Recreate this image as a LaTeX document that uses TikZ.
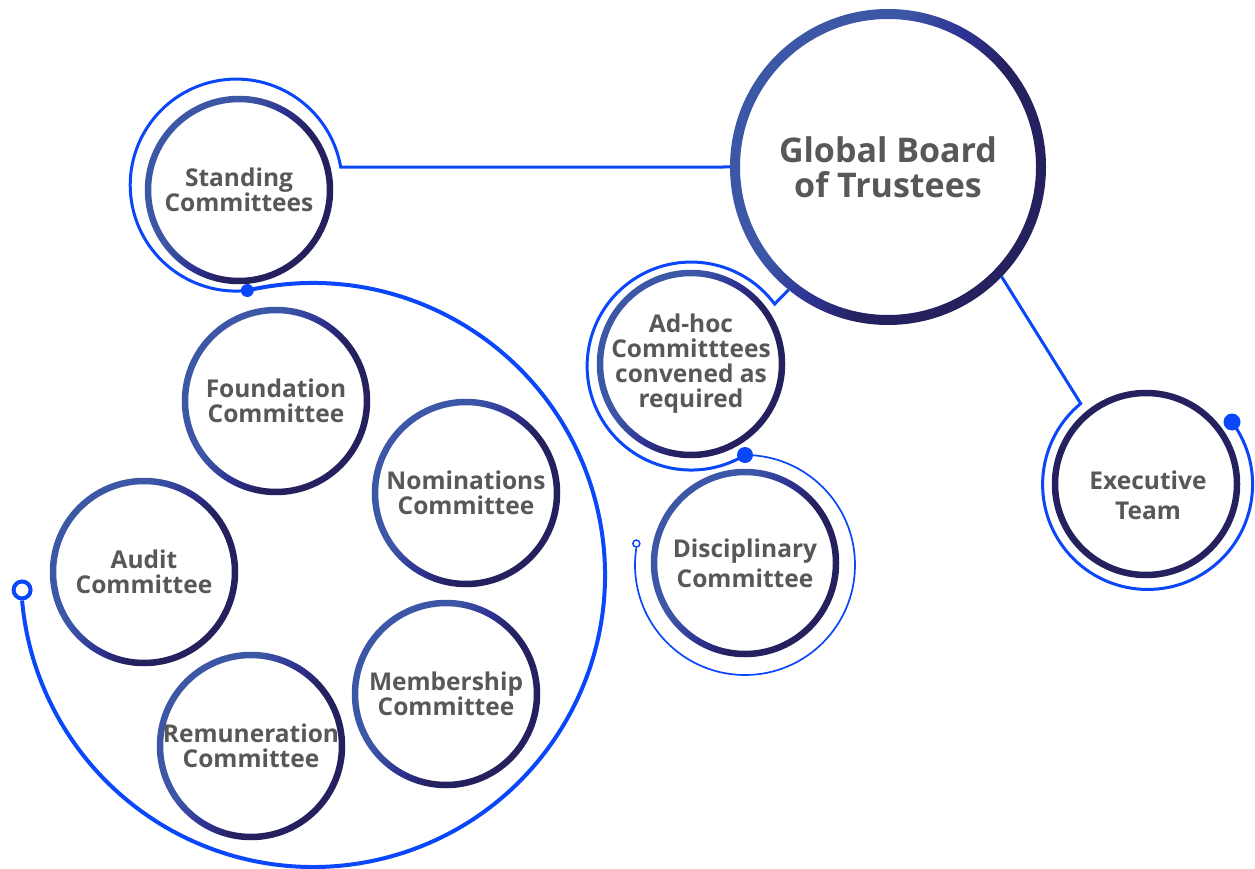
\documentclass[tikz,border=0pt]{standalone}
\usepackage{fontspec}
\setmainfont{Open Sans}
\definecolor{lineblue}{RGB}{10,70,250}
\definecolor{ringA}{RGB}{60,87,166}
\definecolor{ringB}{RGB}{46,49,146}
\definecolor{ringC}{RGB}{37,33,94}
\definecolor{txt}{RGB}{88,88,88}
\pgfdeclarehorizontalshading{ringshade}{100bp}{color(0bp)=(ringA); color(40bp)=(ringA); color(50bp)=(ringB); color(58bp)=(ringC); color(100bp)=(ringC)}
\pgfdeclarelayer{bg}
\pgfsetlayers{bg,main}
\newcommand{\gring}[3]{%
  \shade[even odd rule, shading=ringshade, shading angle=-30]
    (#1.center) circle[radius=#2+#3/2] (#1.center) circle[radius=#2-#3/2];}
\tikzset{
  bub/.style={circle, fill=white, inner sep=0pt, outer sep=0pt, minimum size=188pt,
    text=txt, align=center, font=\bfseries\fontsize{24.5}{25}\selectfont},
  bubwide/.style={bub, font=\bfseries\fontsize{24.5}{30}\selectfont},
  labeltext/.style={inner sep=0pt, text=txt, align=center, font=\bfseries\fontsize{24.5}{30}\selectfont},
  conn/.style={draw=lineblue, line width=3pt},
  thinconn/.style={draw=lineblue, line width=1.7pt},
  bigconn/.style={draw=lineblue, line width=4pt},
  dotnode/.style={circle, fill=lineblue, inner sep=0pt, minimum size=#1},
  opennode/.style={circle, draw=lineblue, fill=white, inner sep=0pt}
}
\begin{document}
\begin{tikzpicture}[x=1pt, y=1pt]
\useasboundingbox (0,0) rectangle (1255,-869);

% nodes
\node[bub, minimum size=316pt, font=\bfseries\fontsize{34}{35}\selectfont] (gb) at (888,-167) {Global Board\\of Trustees};
\node[bub] (std) at (239,-190) {Standing\\Committees};
\node[bub] (fnd) at (276,-401) {Foundation\\Committee};
\node[bub] (nom) at (466,-493) {Nominations\\Committee};
\node[bub] (aud) at (144,-572) {Audit\\Committee};
\node[bub] (rem) at (251,-746) {Remuneration\\Committee};
\node[bub] (mem) at (446,-694) {Membership\\Committee};
\node[bub] (adh) at (691,-364) {Ad-hoc\\Committtees\\convened as\\required};
\node[bubwide] (dis) at (745,-563) {Disciplinary\\Committee};
\node[bub] (exe) at (1146,-484) {};
\node[labeltext] (exet) at (1148,-495) {Executive\\Team};

% rings
\gring{gb}{153}{10}
\gring{std}{91}{6.5}
\gring{fnd}{91}{6.5}
\gring{nom}{91}{6.5}
\gring{aud}{91}{6.5}
\gring{rem}{91}{6.5}
\gring{mem}{91}{6.5}
\gring{adh}{91}{6.5}
\gring{dis}{91}{6.5}
\draw[ringC, line width=6.5pt] (exe.center) circle[radius=91];

% connectors
\begin{pgfonlayer}{bg}
\coordinate (d1) at (247.3,-290.5);
\coordinate (d2) at (745,-455);
\coordinate (d3) at (1232,-422);
\draw[bigconn] (d1) arc[start angle=103, end angle=-175, radius=292] coordinate (e1);
\draw[conn] (d1) arc[start angle=-84, end angle=-350.2, radius=106] -- (gb.west);
\draw[conn] (d2) arc[start angle=-58.8, end angle=-323.4, radius=104] -- (gb.231);
\draw[thinconn] (d2) arc[start angle=90, end angle=-189, radius=110] coordinate (e2);
\draw[conn] (d3) arc[start angle=36.5, end angle=-230.4, radius=105] -- (gb.-44);
\end{pgfonlayer}

% end markers
\node[dotnode=13pt] (m1) at (d1) {};
\node[dotnode=16pt] (m2) at (d2) {};
\node[dotnode=17pt] (m3) at (d3) {};
\node[opennode, line width=4pt, minimum size=17pt, anchor=south] (o1) at (e1) {};
\node[opennode, line width=1.5pt, minimum size=7pt, anchor=south] (o2) at (e2) {};
\end{tikzpicture}
\end{document}
